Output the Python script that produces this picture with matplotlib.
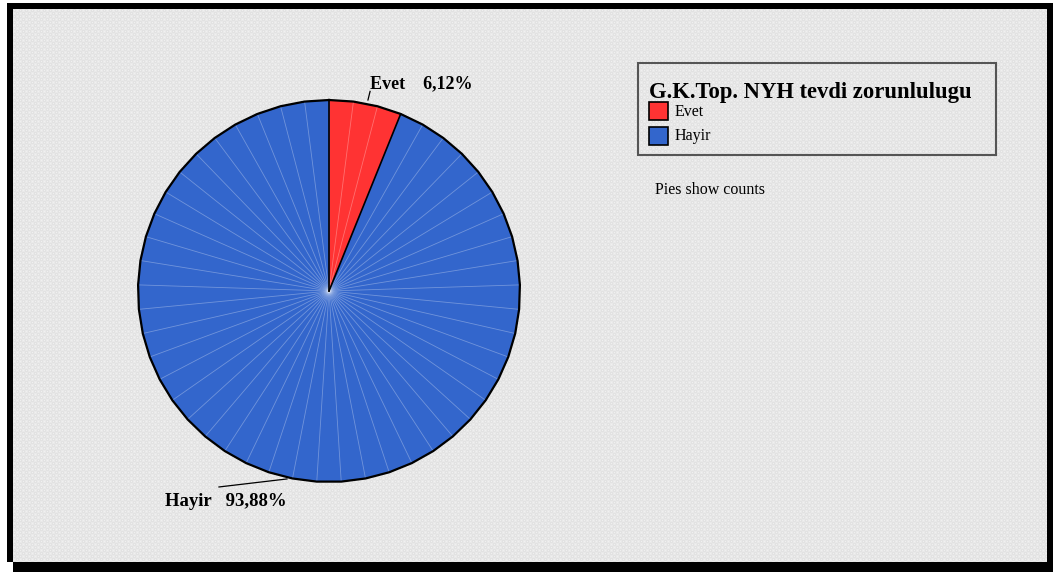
import numpy as np
import matplotlib
matplotlib.use("Agg")
import matplotlib.pyplot as plt
from matplotlib.patches import Rectangle

# answers to "G.K.Top. NYH tevdi zorunlulugu", number of cases
categories = ["Evet", "Hayir"]
counts = [3, 46]
colors = ["#ff3333", "#3366cc"]

title = "G.K.Top. NYH tevdi zorunlulugu"
note = "Pies show counts"

W, H = 1053, 572
SERIF = ["Liberation Serif", "DejaVu Serif"]


def make_background():
    # white page, black frame, light dotted grey panel
    img = np.ones((H, W, 3))
    img[3:572, 7:1053] = 0.0
    img[562:572, 0:13] = 1.0
    yy, xx = np.mgrid[0:553, 0:1034]
    tex = np.full(yy.shape, 0.89)
    tex[(xx % 6 < 3) ^ (yy % 6 < 3)] = 0.915
    tex[(xx % 3 == 1) & (yy % 3 == 1)] = 0.945
    img[9:562, 13:1047] = tex[..., None]
    return img


def fmt_pct(v):
    return ("%.2f%%" % v).replace(".", ",")


def main():
    fig = plt.figure(figsize=(W / 100, H / 100), dpi=100)
    fig.figimage(make_background(), xo=0, yo=0, origin="upper", zorder=0)

    # overlay in pixel coordinates for the legend block
    ov = fig.add_axes([0, 0, 1, 1], zorder=2)
    ov.set_xlim(0, W)
    ov.set_ylim(H, 0)
    ov.axis("off")
    ov.patch.set_alpha(0)

    # pie axes: centre at (329, 291) px, radius 191 px
    r_px = 191
    half = 1.3 * r_px
    ax = fig.add_axes([(329 - half) / W, (H - 291 - half) / H,
                       2 * half / W, 2 * half / H], zorder=1)
    ax.set_xlim(-1.3, 1.3)
    ax.set_ylim(-1.3, 1.3)
    ax.axis("off")
    ax.patch.set_alpha(0)

    total = sum(counts)
    ang = np.radians(90 - np.arange(total + 1) * 360.0 / total)
    vx, vy = np.cos(ang), np.sin(ang)

    start = 0
    bounds = [0]
    for cat, n, col in zip(categories, counts, colors):
        idx = np.arange(start, start + n + 1)
        ax.fill(np.r_[0, vx[idx]], np.r_[0, vy[idx]], facecolor=col,
                edgecolor=col, lw=0.5, zorder=2)
        start += n
        bounds.append(start)

    # one thin line per case
    for k in range(total):
        if k in bounds:
            continue
        ax.plot([0, vx[k]], [0, vy[k]], color="white", lw=0.6, alpha=0.3,
                zorder=3)
    for k in bounds[:-1]:
        ax.plot([0, vx[k]], [0, vy[k]], color="black", lw=1.2, zorder=4)
    ax.plot(vx, vy, color="black", lw=1.6, zorder=4, solid_joinstyle="miter")

    # slice labels with leader lines
    pct = [100.0 * c / total for c in counts]
    ax.plot([0.204, 0.215], [1.0, 1.045], color="black", lw=0.9, zorder=4)
    ax.text(0.215, 1.04, "%s    %s" % (categories[0], fmt_pct(pct[0])),
            ha="left", va="bottom", fontsize=13, fontweight="bold",
            family=SERIF)
    ax.plot([-0.22, -0.576], [-0.984, -1.026], color="black", lw=0.9, zorder=4)
    ax.text(-0.86, -1.055, "%s   %s" % (categories[1], fmt_pct(pct[1])),
            ha="left", va="top", fontsize=13.5, fontweight="bold",
            family=SERIF)

    # legend
    ov.add_patch(Rectangle((638, 63), 358, 92, facecolor="none",
                           edgecolor="#555555", lw=1.5))
    ov.text(649, 98, title, ha="left", va="baseline", fontsize=16.3,
            fontweight="bold", family=SERIF)
    for i, (cat, col) in enumerate(zip(categories, colors)):
        y = 102 + i * 24.5
        ov.add_patch(Rectangle((648.5, y), 19, 18, facecolor=col,
                               edgecolor="black", lw=1.2))
        ov.text(675, y + 10, cat, ha="left", va="center", fontsize=11.5,
                family=SERIF)
    ov.text(655, 190, note, ha="left", va="center", fontsize=11.5,
            family=SERIF)

    fig.savefig("out.png", dpi=100)


if __name__ == "__main__":
    main()
